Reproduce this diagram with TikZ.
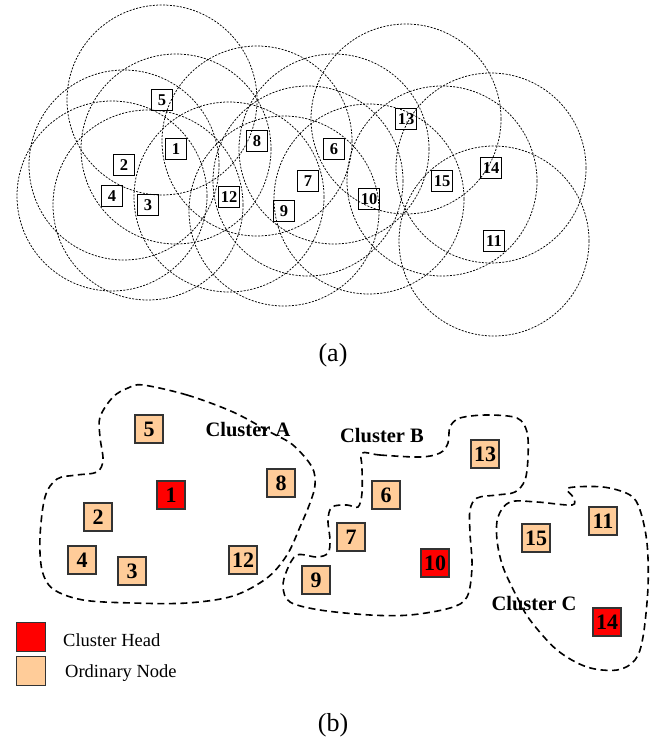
\documentclass[tikz,border=0pt]{standalone}
\usepackage{fontspec}
\setmainfont{Liberation Serif}
\definecolor{peach}{HTML}{FFCC99}
\definecolor{headred}{HTML}{FF0000}
\begin{document}
\begin{tikzpicture}[x=1pt,y=-1pt,
  rangecircle/.style={draw=black,line width=0.75pt,dash pattern=on 2pt off 1.4pt},
  anode/.style={draw=black,line width=1pt,minimum size=21pt,inner sep=0pt,font=\fontsize{16.5}{16.5}\selectfont\bfseries},
  bnode/.style={draw=black!80,line width=1.2pt,minimum size=28pt,inner sep=0pt,fill=peach,font=\fontsize{22}{22}\selectfont\bfseries},
  bhead/.style={bnode,fill=headred},
  clusterline/.style={draw=black,line width=1.6pt,dash pattern=on 7pt off 4.5pt},
  clabel/.style={font=\fontsize{20.5}{20.5}\selectfont\bfseries,inner sep=0pt},
  legtext/.style={font=\fontsize{18.5}{18.5}\selectfont,anchor=west,inner sep=0pt},
  sublabel/.style={font=\fontsize{26}{26}\selectfont,inner sep=0pt}]
\useasboundingbox (0,0) rectangle (663,747);
% ---------- (a) ----------
\foreach \n/\x/\y in {5/162/100,1/176/149,2/124/165,4/112/196,3/148/205,12/229/197,8/257/141,9/284/211,7/308/181,6/334/149,10/369/199,13/406/119,15/442/181,14/491/168,11/494/241}{
  \draw[rangecircle] (\x,\y) circle[radius=95pt];
}
\foreach \n/\x/\y in {5/162/100,1/176/149,2/124/165,4/112/196,3/148/205,12/229/197,8/257/141,9/284/211,7/308/181,6/334/149,10/369/199,13/406/119,15/442/181,14/491/168,11/494/241}{
  \node[anode] (a\n) at (\x,\y) {\n};
}
\node[sublabel] (la) at (333,355) {(a)};
% ---------- (b) ----------
\draw[clusterline] plot[smooth cycle,tension=0.55] coordinates {
 (143,385) (187,395) (233,412) (270,432) (293,445) (312,467) (315,485) (310,503) (300,527) (287,555) (267,578) (233,596) (187,603) (133,603) (83,600) (53,589) (42,570) (40,537) (45,497) (57,479) (77,475) (97,472) (103,460) (100,437) (100,417) (113,397) (128,388)};
\draw[clusterline] plot[smooth cycle,tension=0.55] coordinates {
 (362,453) (380,455) (420,457) (440,453) (448,443) (450,427) (460,418) (487,415) (517,418) (527,432) (528,457) (525,480) (515,492) (497,495) (477,498) (470,510) (470,533) (472,567) (467,597) (450,608) (410,615) (370,615) (320,610) (290,602) (283,587) (287,570) (297,555) (317,557) (328,553) (330,540) (328,520) (332,507) (347,505) (358,507) (362,493) (362,467)};
\draw[clusterline] plot[smooth cycle,tension=0.55] coordinates {
 (568,488) (603,487) (630,495) (640,510) (647,543) (648,587) (643,637) (635,660) (617,670) (587,667) (557,650) (530,620) (517,597) (503,567) (497,540) (498,517) (510,502) (537,502) (572,505) (573,497)};
\foreach \n/\x/\y in {5/149/429,2/98/517,4/82/560,3/132/571,12/243/560,8/281/483,9/316/580,7/351/537,6/386/495,13/485/454,15/536/538,11/603/521}{
  \node[bnode] (b\n) at (\x,\y) {\n};
}
\node[bhead] (b1) at (171,495) {1};
\node[bhead] (b10) at (435,563) {10};
\node[bhead] (b14) at (607,622) {14};
\node[clabel] (cA) at (248,430) {Cluster A};
\node[clabel] (cB) at (382,436) {Cluster B};
\node[clabel] (cC) at (534,604) {Cluster C};
% legend
\node[bhead,minimum size=29pt] (lh) at (31,637) {};
\node[bnode,minimum size=29pt] (lo) at (31,671) {};
\node[legtext] (th) at (63,640) {Cluster Head};
\node[legtext] (to) at (65,673) {Ordinary Node};
\node[sublabel] (lb) at (333,725) {(b)};
\end{tikzpicture}
\end{document}
